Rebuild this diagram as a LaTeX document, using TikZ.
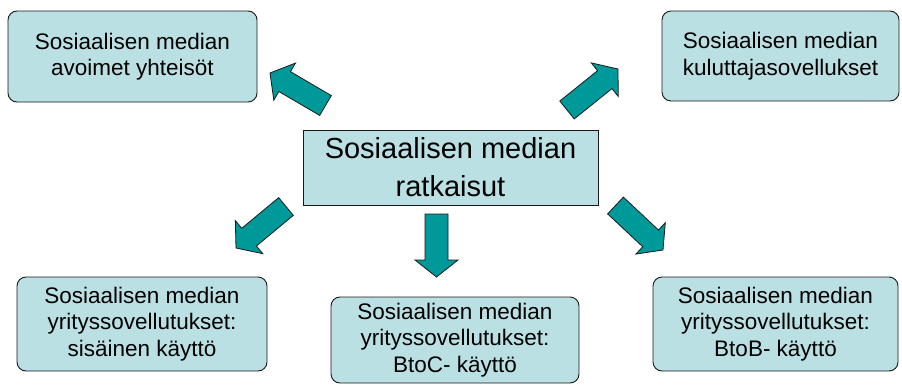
\documentclass[tikz,border=0pt]{standalone}
\usepackage{fontspec}
\setmainfont{Liberation Sans}
\usetikzlibrary{calc}

\definecolor{boxfill}{RGB}{187,224,227}
\definecolor{arrowfill}{RGB}{0,153,153}
\definecolor{edge}{RGB}{25,25,25}

% Block arrow from a tail point to a tip point
\newcommand{\blockarrow}[2]{%
  \coordinate (neck) at ($(#2)!17pt!(#1)$);
  \draw[arrowbody]
    ($(#1)!11.5pt!90:(#2)$) -- ($(neck)!11.5pt!90:(#2)$) --
    ($(neck)!21.5pt!90:(#2)$) -- (#2) --
    ($(neck)!21.5pt!-90:(#2)$) -- ($(neck)!11.5pt!-90:(#2)$) --
    ($(#1)!11.5pt!-90:(#2)$) -- cycle;}

\tikzset{
  topic/.style={draw=edge, line width=0.9pt, fill=boxfill, rounded corners=9pt,
    align=center, inner sep=0pt, text=black,
    font=\fontsize{22.5}{26.5}\selectfont},
  hub/.style={draw=edge, line width=0.9pt, fill=boxfill,
    align=center, inner sep=0pt, text=black,
    font=\fontsize{29}{38}\selectfont},
  arrowbody/.style={draw=edge, line width=0.8pt, fill=arrowfill, line join=miter}
}

\begin{document}
\begin{tikzpicture}[x=1pt,y=-1pt]
  \useasboundingbox (0,0) rectangle (902,386);

  % central box
  \node[hub, minimum width=295pt, minimum height=75pt] (hub) at (450.5,167.5)
    {Sosiaalisen median\\ratkaisut};

  % surrounding boxes
  \node[topic, minimum width=249pt, minimum height=91pt] (open) at (132.5,56.5)
    {Sosiaalisen median\\avoimet yhteisöt};
  \node[topic, minimum width=237pt, minimum height=90pt] (consumer) at (780.5,56)
    {Sosiaalisen median\\kuluttajasovellukset};
  \node[topic, minimum width=250pt, minimum height=94pt] (internal) at (142,324)
    {Sosiaalisen median\\yrityssovellutukset:\\sisäinen käyttö};
  \node[topic, minimum width=248pt, minimum height=86pt] (btoc) at (455,340)
    {Sosiaalisen median\\yrityssovellutukset:\\BtoC- käyttö};
  \node[topic, minimum width=245pt, minimum height=94pt] (btob) at (775.5,324)
    {Sosiaalisen median\\yrityssovellutukset:\\BtoB- käyttö};

  % arrow ends
  \coordinate (t1) at (325.5,105.5); \coordinate (h1) at (270,73);
  \coordinate (t2) at (567,110);     \coordinate (h2) at (618,69);
  \coordinate (t3) at (286,206.5);   \coordinate (h3) at (236,248);
  \coordinate (t4) at (436.5,214);   \coordinate (h4) at (436.5,277);
  \coordinate (t5) at (615.5,205.5); \coordinate (h5) at (663,250);

  \blockarrow{t1}{h1}
  \blockarrow{t2}{h2}
  \blockarrow{t3}{h3}
  \blockarrow{t4}{h4}
  \blockarrow{t5}{h5}
\end{tikzpicture}
\end{document}
